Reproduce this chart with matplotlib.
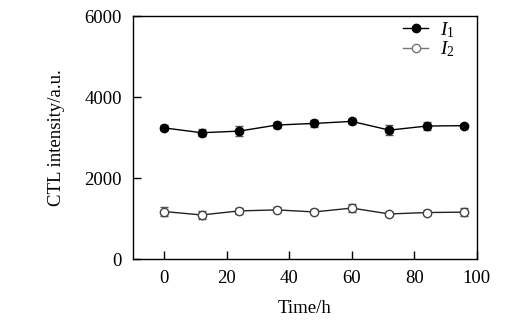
import matplotlib
matplotlib.use("Agg")
import matplotlib.pyplot as plt
from matplotlib.lines import Line2D

plt.rcParams['font.family'] = ['Liberation Serif', 'DejaVu Serif']
plt.rcParams['mathtext.fontset'] = 'custom'
plt.rcParams['mathtext.it'] = 'Liberation Serif:italic'
plt.rcParams['mathtext.rm'] = 'Liberation Serif'

# 数据
time = [0, 12, 24, 36, 48, 60, 72, 84, 96]
i1 = [3240, 3120, 3160, 3310, 3350, 3400, 3185, 3285, 3295]
i1_err = [60, 80, 130, 80, 80, 60, 130, 90, 50]
i2 = [1175, 1090, 1190, 1215, 1165, 1260, 1115, 1150, 1160]
i2_err = [120, 100, 80, 60, 60, 90, 60, 60, 100]

fig = plt.figure(figsize=(5.27, 3.28), dpi=100)
ax = fig.add_axes([0.252, 0.21, 0.653, 0.741])

ax.errorbar(time, i1, yerr=i1_err, color='black', marker='o', markersize=6,
            linewidth=1, ecolor='#555555', elinewidth=1, capsize=3)
ax.errorbar(time, i2, yerr=i2_err, color='#222222', marker='o', markersize=6,
            markerfacecolor='white', markeredgecolor='#444444', linewidth=1,
            ecolor='#555555', elinewidth=1, capsize=3)

ax.set_xlim(-10, 100)
ax.set_ylim(0, 6000)
ax.set_xticks([0, 20, 40, 60, 80, 100])
ax.set_yticks([0, 2000, 4000, 6000])
ax.tick_params(direction='in', length=6, width=1, labelsize=13.5, pad=8)
for s in ax.spines.values():
    s.set_linewidth(1)

ax.set_xlabel('Time/h', fontsize=13.5, labelpad=9)
ax.set_ylabel('CTL intensity/a.u.', fontsize=13.5, labelpad=14)

# 图例只显示线和点，不带误差棒
handles = [
    Line2D([], [], color='black', marker='o', markersize=6, linewidth=1),
    Line2D([], [], color='#777777', marker='o', markersize=6, linewidth=1,
           markerfacecolor='white', markeredgecolor='#777777'),
]
ax.legend(handles, ['$I_1$', '$I_2$'], loc='upper right', frameon=False,
          fontsize=14, handlelength=1.3, handletextpad=0.6, labelspacing=0.0,
          borderaxespad=0.0, borderpad=0.2, bbox_to_anchor=(0.947, 1.0))

fig.savefig('out.png', dpi=100)
